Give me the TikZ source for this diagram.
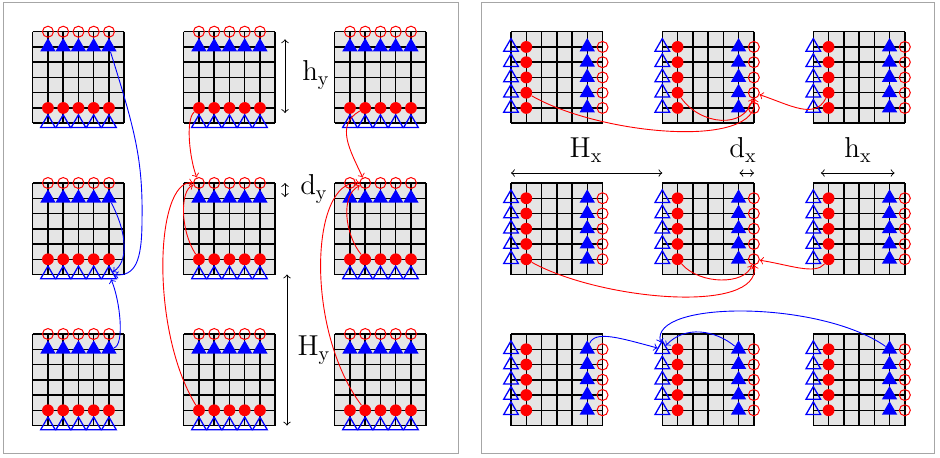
\documentclass[tikz,border=0pt]{standalone}
\usetikzlibrary{shapes.geometric}

\tikzset{
  frame/.style={draw=gray!70, line width=0.5pt},
  meshline/.style={line width=0.75pt, black},
  redown/.style={circle, fill=red, inner sep=0pt, minimum size=5.9pt},
  redghost/.style={circle, draw=red, line width=0.5pt, inner sep=0pt, minimum size=5.5pt},
  blueown/.style={regular polygon, regular polygon sides=3, fill=blue, inner sep=0pt, minimum size=8.9pt},
  blueghost/.style={regular polygon, regular polygon sides=3, draw=blue, line width=0.65pt, inner sep=0pt, minimum size=8.4pt},
  redcopy/.style={->, red, line width=0.45pt},
  bluecopy/.style={->, blue, line width=0.45pt},
  dimarrow/.style={<->, line width=0.45pt},
  dimlabel/.style={font=\Large, inner sep=1pt},
}

% one 6x6 block, origin = top left corner
\newcommand{\meshblock}[2]{%
  \fill[gray!20] (#1,#2) rectangle ++(91.5,91.5);
  \foreach \k in {0,...,6}{
    \draw[meshline] ({#1+\k*15.25},#2) -- ++(0,91.5);
    \draw[meshline] (#1,{#2+\k*15.25}) -- ++(91.5,0);
  }
}

\begin{document}
\begin{tikzpicture}[x=0.5pt, y=-0.5pt]
  \useasboundingbox (0,0) rectangle (940,457);
  \draw[frame] (3,2) rectangle (458,453);
  \draw[frame] (481,2) rectangle (934,453);

  % left: split along y
  \foreach \a/\ox in {1/32.7, 2/183.7, 3/334.7}
    \foreach \b/\oy in {1/31.7, 2/183, 3/334}{
      \meshblock{\ox}{\oy}
      \foreach \c in {1,...,5}{
        \node[redghost]  (L\a\b-0-\c) at ({\ox+\c*15.25},\oy) {};
        \node[blueown]   (L\a\b-1-\c) at ({\ox+\c*15.25},{\oy+15.25}) {};
        \node[redown]    (L\a\b-5-\c) at ({\ox+\c*15.25},{\oy+5*15.25}) {};
        \node[blueghost] (L\a\b-6-\c) at ({\ox+\c*15.25},{\oy+6*15.25}) {};
      }
    }

  % right: split along x
  \foreach \a/\ox in {1/511, 2/662.3, 3/813.3}
    \foreach \b/\oy in {1/31.7, 2/183, 3/334}{
      \meshblock{\ox}{\oy}
      \foreach \r in {1,...,5}{
        \node[blueghost] (R\a\b-\r-0) at (\ox,{\oy+\r*15.25}) {};
        \node[redown]    (R\a\b-\r-1) at ({\ox+15.25},{\oy+\r*15.25}) {};
        \node[blueown]   (R\a\b-\r-5) at ({\ox+5*15.25},{\oy+\r*15.25}) {};
        \node[redghost]  (R\a\b-\r-6) at ({\ox+6*15.25},{\oy+\r*15.25}) {};
      }
    }

  % sizes
  \coordinate (hy-a) at (285,39.3);
  \coordinate (hy-b) at (285,113);
  \coordinate (dy-a) at (285,183);
  \coordinate (dy-b) at (285,197);
  \coordinate (Hy-a) at (287,274.5);
  \coordinate (Hy-b) at (287,425.5);
  \draw[dimarrow] (hy-a) -- (hy-b);
  \draw[dimarrow] (dy-a) -- (dy-b);
  \draw[dimarrow] (Hy-a) -- (Hy-b);
  \node[dimlabel] (hy) at (316,75) {$\mathrm{h}_\mathrm{y}$};
  \node[dimlabel] (dy) at (314,189) {$\mathrm{d}_\mathrm{y}$};
  \node[dimlabel] (Hy) at (314,350) {$\mathrm{H}_\mathrm{y}$};

  \coordinate (Hx-a) at (511,173);
  \coordinate (Hx-b) at (662.3,173);
  \coordinate (dx-a) at (739.5,173);
  \coordinate (dx-b) at (754,173);
  \coordinate (hx-a) at (820.9,173);
  \coordinate (hx-b) at (894.5,173);
  \draw[dimarrow] (Hx-a) -- (Hx-b);
  \draw[dimarrow] (dx-a) -- (dx-b);
  \draw[dimarrow] (hx-a) -- (hx-b);
  \node[dimlabel] (Hx) at (586,150) {$\mathrm{H}_\mathrm{x}$};
  \node[dimlabel] (dx) at (743,150) {$\mathrm{d}_\mathrm{x}$};
  \node[dimlabel] (hx) at (858,150) {$\mathrm{h}_\mathrm{x}$};

  % halo copies, left
  \draw[bluecopy] (L11-1-5) .. controls (135,130) and (143,160) .. (142,220)
                            .. controls (142,262) and (135,276) .. (L12-6-5);
  \draw[bluecopy] (L12-1-5) .. controls (128,235) and (128,262) .. (L12-6-5);
  \draw[bluecopy] (L13-1-5) .. controls (125,345) and (120,300) .. (L12-6-5);

  \draw[redcopy] (L21-5-1) .. controls (185,120) and (190,160) .. (L22-0-1);
  \draw[redcopy] (L23-5-1) .. controls (150,330) and (155,180) .. (L22-0-1);
  \draw[redcopy] (L22-5-1) .. controls (180,230) and (180,190) .. (L22-0-1);

  \draw[redcopy] (L31-5-2) .. controls (335,125) and (350,150) .. (L32-0-2);
  \draw[redcopy] (L33-5-2) .. controls (305,330) and (310,180) .. (L32-0-2);
  \draw[redcopy] (L32-5-2) .. controls (345,235) and (340,195) .. (L32-0-2);

  % halo copies, right
  \draw[redcopy] (R11-4-1) .. controls (600,135) and (760,150) .. (R21-4-6);
  \draw[redcopy] (R21-4-1) .. controls (700,125) and (745,130) .. (R21-4-6);
  \draw[redcopy] (R31-4-1) .. controls (815,120) and (790,105) .. (R21-4-6);

  \draw[redcopy] (R12-5-1) .. controls (600,300) and (760,315) .. (R22-5-6);
  \draw[redcopy] (R22-5-1) .. controls (700,285) and (745,285) .. (R22-5-6);
  \draw[redcopy] (R32-5-1) .. controls (815,275) and (790,265) .. (R22-5-6);

  \draw[bluecopy] (R13-1-5) .. controls (595,330) and (620,338) .. (R23-1-0);
  \draw[bluecopy] (R33-1-5) .. controls (820,300) and (650,300) .. (R23-1-0);
  \draw[bluecopy] (R23-1-5) .. controls (715,330) and (685,325) .. (R23-1-0);
\end{tikzpicture}
\end{document}
